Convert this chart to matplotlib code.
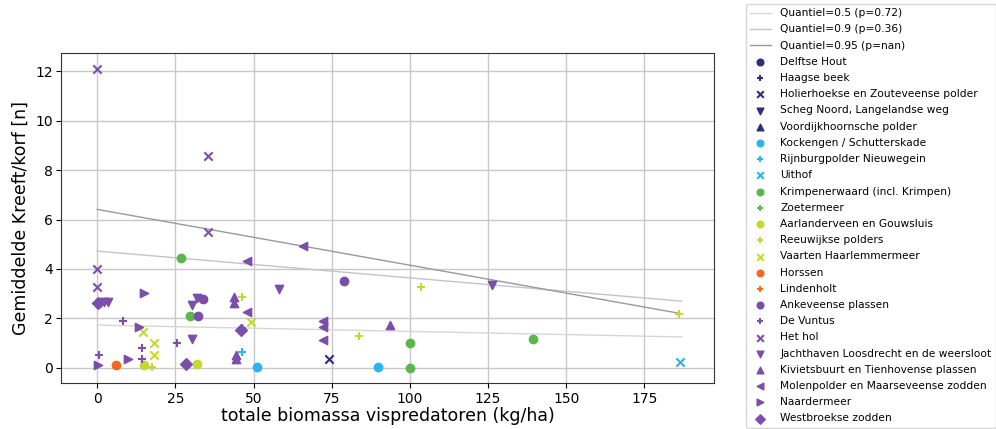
import numpy as np
import matplotlib
matplotlib.use('Agg')
import matplotlib.pyplot as plt

# kleur per gebied-cluster, marker per gebied binnen cluster
markers = ['o', '+', 'x', 'v', '^', '<', '>', 'D']

c_navy = '#2b2f7c'
c_cyan = '#27b6ee'
c_green = '#5ab84a'
c_yellow = '#c7d630'
c_orange = '#f26a22'
c_purple = '#7b4ea9'

gebieden = [
    ('Delftse Hout', c_navy, [], []),
    ('Haagse beek', c_navy, [], []),
    ('Holierhoekse en Zouteveense polder', c_navy, [74.0], [0.35]),
    ('Scheg Noord, Langelandse weg', c_navy, [], []),
    ('Voordijkhoornsche polder', c_navy, [], []),
    ('Kockengen / Schutterskade', c_cyan, [51.1, 89.7], [0.02, 0.02]),
    ('Rijnburgpolder Nieuwegein', c_cyan, [46.4, 46.3], [0.61, 1.62]),
    ('Uithof', c_cyan, [186.4], [0.24]),
    ('Krimpenerwaard (incl. Krimpen)', c_green, [26.8, 29.8, 100.0, 100.0, 139.3], [4.42, 2.09, 1.0, 0.0, 1.16]),
    ('Zoetermeer', c_green, [], []),
    ('Aarlanderveen en Gouwsluis', c_yellow, [14.9, 31.8], [0.1, 0.16]),
    ('Reeuwijkse polders', c_yellow, [17.6, 46.4, 83.6, 103.6, 186.1], [0.02, 2.85, 1.27, 3.27, 2.18]),
    ('Vaarten Haarlemmermeer', c_yellow, [14.7, 18.1, 18.1, 49.1], [1.42, 1.0, 0.5, 1.85]),
    ('Horssen', c_orange, [6.1], [0.09]),
    ('Lindenholt', c_orange, [], []),
    ('Ankeveense plassen', c_purple, [32.1, 33.9, 78.9], [2.09, 2.76, 3.5]),
    ('De Vuntus', c_purple, [8.1, 14.4, 14.4, 0.5, 25.4], [1.89, 0.78, 0.36, 0.51, 1.01]),
    ('Het hol', c_purple, [0.0, 35.3, 35.5, 0.0, 0.0], [12.1, 8.58, 5.5, 4.0, 3.25]),
    ('Jachthaven Loosdrecht en de weersloot', c_purple, [2.2, 3.5, 30.4, 31.8, 30.4, 58.2, 126.3], [2.65, 2.65, 2.53, 2.8, 1.14, 3.18, 3.33]),
    ('Kivietsbuurt en Tienhovense plassen', c_purple, [43.6, 43.6, 44.4, 44.4, 93.7], [2.86, 2.62, 0.5, 0.35, 1.74]),
    ('Molenpolder en Maarseveense zodden', c_purple, [-0.3, 65.9, 47.8, 47.8, 72.3, 72.3, 72.3], [2.6, 4.93, 4.31, 2.26, 1.89, 1.65, 1.11]),
    ('Naardermeer', c_purple, [15.0, 13.3, 0.1, 9.7, 1.0], [3.03, 1.65, 0.12, 0.35, 2.6]),
    ('Westbroekse zodden', c_purple, [28.3, 45.9, 0.3], [0.16, 1.51, 2.6]),
]

# kwantielregressie-lijnen (begin- en eindwaarde)
q_x = [0.0, 187.0]
q_labels = ['Quantiel=0.5 (p=0.72)', 'Quantiel=0.9 (p=0.36)', 'Quantiel=0.95 (p=nan)']
q_y = [[1.72, 1.24], [4.72, 2.69], [6.41, 2.18]]
q_colors = ['#d6d6d6', '#c4c4c4', '#999999']

fig = plt.figure(figsize=(9.96, 4.29), dpi=100)
ax = fig.add_axes([0.0612, 0.1065, 0.6557, 0.77])

for lab, y, col in zip(q_labels, q_y, q_colors):
    ax.plot(q_x, y, color=col, linewidth=1.0, label=lab)

# marker telt door binnen elk kleurcluster
prev_col = None
m_idx = 0
for naam, col, xs, ys in gebieden:
    if col != prev_col:
        m_idx = 0
        prev_col = col
    m = markers[m_idx]
    m_idx += 1
    ax.scatter(xs, ys, marker=m, color=col, s=36, label=naam, zorder=3)

ax.set_xlim(-11.6, 197.3)
ax.set_ylim(-0.64, 12.75)
ax.set_xticks([0, 25, 50, 75, 100, 125, 150, 175])
ax.set_yticks([0, 2, 4, 6, 8, 10, 12])
ax.tick_params(labelsize=10, pad=2.5)
ax.grid(True, color='#c8c8c8', linewidth=1.0)
ax.set_axisbelow(True)
ax.set_xlabel('totale biomassa vispredatoren (kg/ha)', fontsize=12.5, labelpad=1)
ax.set_ylabel('Gemiddelde Kreeft/korf [n]', fontsize=12.5)
for sp in ax.spines.values():
    sp.set_color('#333333')

fig.legend(loc='upper left', bbox_to_anchor=(746 / 996, 1 - 4 / 429), borderaxespad=0,
           fontsize=7.7, labelspacing=0.58, handlelength=1.9, handletextpad=0.9,
           borderpad=0.4, markerscale=0.8, frameon=True)

plt.savefig('out.png', dpi=100)
